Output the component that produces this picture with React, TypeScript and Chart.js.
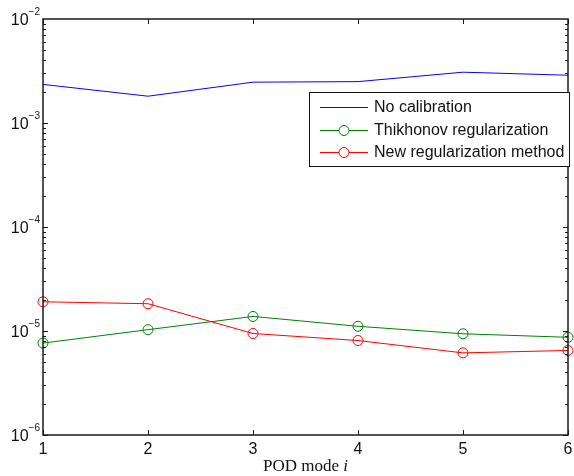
import React, { useEffect, useRef } from "react";
import { Chart, registerables } from "chart.js";

Chart.register(...registerables);

const modes = [1, 2, 3, 4, 5, 6];
const noCalibration = [2.35e-3, 1.81e-3, 2.47e-3, 2.5e-3, 3.08e-3, 2.88e-3];
const thikhonov = [7.65e-6, 1.03e-5, 1.38e-5, 1.11e-5, 9.4e-6, 8.7e-6];
const newMethod = [1.91e-5, 1.83e-5, 9.46e-6, 8.1e-6, 6.16e-6, 6.5e-6];
const xTicks = [1, 2, 3, 4, 5, 6];
const yExponents = [-6, -5, -4, -3, -2];
const seriesNames = ["No calibration", "Thikhonov regularization", "New regularization method"];
const seriesColors = ["#0000ff", "#008000", "#ff0000"];
const seriesMarkers = [false, true, true];

const SANS = "'Liberation Sans', Arial, sans-serif";
const SERIF = "'Liberation Serif', 'Times New Roman', serif";

const axesPlugin = {
  id: "matlabAxes",
  afterDatasetsDraw(chart: any) {
    const ctx = chart.ctx;
    const { left, right, top, bottom } = chart.chartArea;
    const xs = chart.scales.x;
    const ys = chart.scales.y;
    ctx.save();
    ctx.strokeStyle = "#1a1a1a";
    ctx.lineWidth = 1;
    const tl = 5;
    ctx.beginPath();
    for (const t of xTicks) {
      const px = Math.round(xs.getPixelForValue(t)) + 0.5;
      ctx.moveTo(px, bottom);
      ctx.lineTo(px, bottom - tl);
      ctx.moveTo(px, top);
      ctx.lineTo(px, top + tl);
    }
    for (let e = yExponents[0]; e < yExponents[yExponents.length - 1]; e++) {
      for (let m = 1; m <= 9; m++) {
        const v = m * Math.pow(10, e);
        const py = Math.round(ys.getPixelForValue(v)) + 0.5;
        const len = m === 1 ? tl : 3;
        ctx.moveTo(left, py);
        ctx.lineTo(left + len, py);
        ctx.moveTo(right, py);
        ctx.lineTo(right - len, py);
      }
    }
    ctx.stroke();
    ctx.lineWidth = 1.5;
    ctx.strokeRect(left, top, right - left, bottom - top);

    ctx.fillStyle = "#111";
    ctx.font = "16px " + SANS;
    ctx.textAlign = "center";
    ctx.textBaseline = "middle";
    for (const t of xTicks) {
      ctx.fillText(String(t), xs.getPixelForValue(t), bottom + 15);
    }
    for (const e of yExponents) {
      const py = ys.getPixelForValue(Math.pow(10, e));
      const sup = "\u2212" + Math.abs(e);
      ctx.font = "10px " + SANS;
      const wSup = ctx.measureText(sup).width;
      ctx.font = "16px " + SANS;
      const wBase = ctx.measureText("10").width;
      const xEnd = left - 3;
      ctx.textAlign = "left";
      ctx.textBaseline = "alphabetic";
      ctx.fillText("10", xEnd - wSup - wBase, py + 6);
      ctx.font = "10px " + SANS;
      ctx.fillText(sup, xEnd - wSup, py - 4);
    }
    const t1 = "POD mode ";
    ctx.font = "italic 17px " + SERIF;
    const wi = ctx.measureText("i").width;
    ctx.font = "17px " + SERIF;
    const w1 = ctx.measureText(t1).width;
    const cx = (left + right) / 2;
    const startX = cx - (w1 + wi) / 2;
    ctx.textAlign = "left";
    ctx.textBaseline = "middle";
    ctx.fillText(t1, startX, 467);
    ctx.font = "italic 17px " + SERIF;
    ctx.fillText("i", startX + w1, 467);

    const lx = 309.5, ly = 92.5, lw = 260, lh = 74;
    ctx.fillStyle = "#ffffff";
    ctx.fillRect(lx, ly, lw, lh);
    ctx.lineWidth = 1;
    ctx.strokeStyle = "#111";
    ctx.strokeRect(lx, ly, lw, lh);
    const rowsY = [107, 130, 152];
    ctx.font = "16px " + SANS;
    for (let i = 0; i < seriesNames.length; i++) {
      const y = rowsY[i];
      ctx.strokeStyle = seriesColors[i];
      ctx.lineWidth = 1;
      ctx.beginPath();
      ctx.moveTo(320, y + 0.5);
      ctx.lineTo(368, y + 0.5);
      ctx.stroke();
      if (seriesMarkers[i]) {
        ctx.beginPath();
        ctx.arc(344, y + 0.5, 5, 0, Math.PI * 2);
        ctx.fillStyle = "#ffffff";
        ctx.fill();
        ctx.stroke();
      }
      ctx.fillStyle = "#111";
      ctx.textAlign = "left";
      ctx.textBaseline = "middle";
      ctx.fillText(seriesNames[i], 374, y + 1);
    }
    ctx.restore();
  },
};

export default function App() {
  const canvasRef = useRef<HTMLCanvasElement | null>(null);
  useEffect(() => {
    document.body.style.margin = "0";
    const canvas = canvasRef.current;
    if (!canvas) return;
    const mk = (vals: number[]) => modes.map((m, i) => ({ x: m, y: vals[i] }));
    const chart = new Chart(canvas, {
      type: "line",
      data: {
        datasets: [
          {
            label: seriesNames[0],
            data: mk(noCalibration),
            borderColor: seriesColors[0],
            borderWidth: 1,
            pointRadius: 0,
            clip: false,
          },
          {
            label: seriesNames[1],
            data: mk(thikhonov),
            borderColor: seriesColors[1],
            borderWidth: 1,
            pointRadius: 5,
            pointBorderWidth: 1,
            pointBorderColor: seriesColors[1],
            pointBackgroundColor: "rgba(0,0,0,0)",
            clip: false,
          },
          {
            label: seriesNames[2],
            data: mk(newMethod),
            borderColor: seriesColors[2],
            borderWidth: 1,
            pointRadius: 5,
            pointBorderWidth: 1,
            pointBorderColor: seriesColors[2],
            pointBackgroundColor: "rgba(0,0,0,0)",
            clip: false,
          },
        ],
      },
      options: {
        animation: false,
        responsive: false,
        maintainAspectRatio: false,
        devicePixelRatio: 1,
        layout: { padding: { left: 43, right: 1, top: 19, bottom: 41 } },
        plugins: { legend: { display: false }, tooltip: { enabled: false } },
        scales: {
          x: { type: "linear", min: 1, max: 6, display: false },
          y: { type: "logarithmic", min: 1e-6, max: 1e-2, display: false },
        },
      },
      plugins: [axesPlugin],
    });
    return () => chart.destroy();
  }, []);
  return (
    <div style={{ width: 574, height: 476, background: "#fff" }}>
      <canvas ref={canvasRef} width={574} height={476} style={{ display: "block" }} />
    </div>
  );
}
